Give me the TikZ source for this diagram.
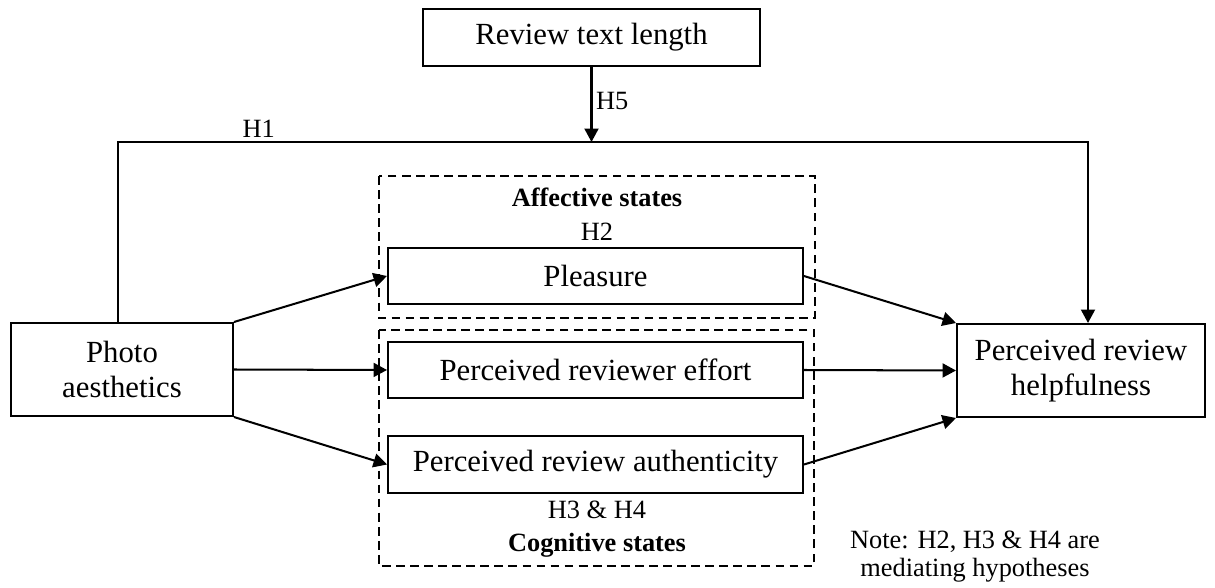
\documentclass[tikz,border=0pt]{standalone}
\usepackage{fontspec}
\setmainfont{Liberation Serif}
\usepackage{tikz}
\usetikzlibrary{arrows.meta, positioning}

\begin{document}
\begin{tikzpicture}[x=0.02cm, y=-0.02cm, >={Triangle[length=0.27cm, width=0.28cm]},
    line width=1.15pt, font=\fontsize{17.5}{19.5}\selectfont,
    var/.style={draw, rectangle, align=center, inner sep=0pt, minimum height=1.12cm, minimum width=8.3cm},
    outer/.style={draw, rectangle, align=center, inner sep=0pt, minimum height=1.86cm},
    group/.style={draw, dash pattern=on 5pt off 3pt, line width=1.15pt},
    hyp/.style={font=\fontsize{15}{16}\selectfont, inner sep=2pt}]

\useasboundingbox (0,0) rectangle (1215,588);

% moderator and the two ends of the model
\node[outer, minimum width=6.74cm, minimum height=1.14cm] (length) at (591.5,37.5) {Review text length};
\node[outer, minimum width=4.44cm] (photo) at (122,369.5) {Photo\\aesthetics};
\node[outer, minimum width=4.96cm] (helpful) at (1081,370.5) {Perceived review\\helpfulness};

% mediators
\node[var] (pleasure) at (595.5,276) {Pleasure};
\node[var] (effort) at (595.5,370) {Perceived reviewer effort};
\node[var, minimum height=1.14cm] (authentic) at (595.5,464.5) {Perceived review authenticity};

% dashed groups
\draw[group] (379,176) rectangle (815,318);
\draw[group] (379,330) rectangle (814,566);
\node[hyp, font=\fontsize{15}{16}\selectfont\bfseries] (affect) at (597,197) {Affective states};
\node[hyp] (h2) at (597,232) {H2};
\node[hyp] (h34) at (597,510) {H3 \& H4};
\node[hyp, font=\fontsize{15}{16}\selectfont\bfseries] (cognit) at (597,545) {Cognitive states};

% direct path H1
\coordinate (h1left) at (118,142);
\coordinate (h1right) at (1088,142);
\draw[->] (photo.north -| h1left) -- (h1left) -- node[hyp, above, pos=0.145] {H1} (h1right) -- (helpful.north -| h1right);

% moderation H5
\draw[->] (length.south) -- node[hyp, right, pos=0.45] {H5} (length.south |- h1left);

% mediated paths
\draw[->] (photo.north east) -- (pleasure.west);
\draw[->] (photo.east) -- (effort.west);
\draw[->] (photo.south east) -- (authentic.west);
\draw[->] (pleasure.east) -- (helpful.north west);
\draw[->] (effort.east) -- (helpful.west);
\draw[->] (authentic.east) -- (helpful.south west);

\node[hyp, align=center] (note) at (975,557) {Note: H2, H3 \& H4 are\\mediating hypotheses};
\end{tikzpicture}
\end{document}
